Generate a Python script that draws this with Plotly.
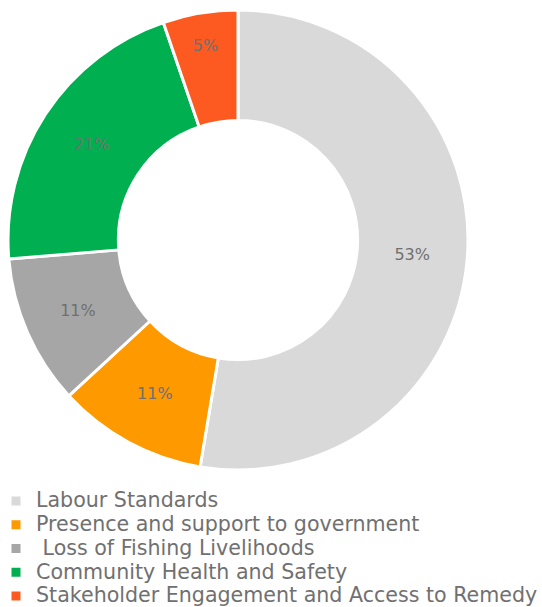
import plotly.graph_objects as go

categories = ["Labour Standards", "Presence and support to government", " Loss of Fishing Livelihoods",
              "Community Health and Safety", "Stakeholder Engagement and Access to Remedy"]
values = [10, 2, 2, 4, 1]
colors = ["#D9D9D9", "#FF9900", "#A6A6A6", "#00B050", "#FC5A21"]

W, H = 542, 607
FONT = "DejaVu Sans"
legend_labels = ['<span style="font-size:20.6px">%s</span>' % c for c in categories]

fig = go.Figure(go.Pie(
    labels=legend_labels, values=values, sort=False, direction="clockwise", rotation=0,
    hole=0.52,
    marker=dict(colors=colors, line=dict(color="white", width=3)),
    texttemplate="%{percent:.0%}", textposition="inside", insidetextorientation="horizontal",
    insidetextfont=dict(color="#707070", size=16, family=FONT),
    domain=dict(x=[8 / W, 468 / W], y=[1 - 470 / H, 1 - 10 / H]),
    hovertext=categories, hoverinfo="text+percent",
))
fig.update_layout(
    width=W, height=H, margin=dict(l=0, r=0, t=0, b=0, autoexpand=False),
    paper_bgcolor="white", plot_bgcolor="white",
    font=dict(family=FONT, color="#707070"),
    showlegend=True,
    legend=dict(x=-4 / W, y=-6 / H, xanchor="left", yanchor="bottom",
                orientation="v", font=dict(size=16, color="#707070", family=FONT),
                itemwidth=30, tracegroupgap=0),
)
fig.write_html("out.html", config={"displayModeBar": False},
               post_script="document.body.style.margin='0px';")
